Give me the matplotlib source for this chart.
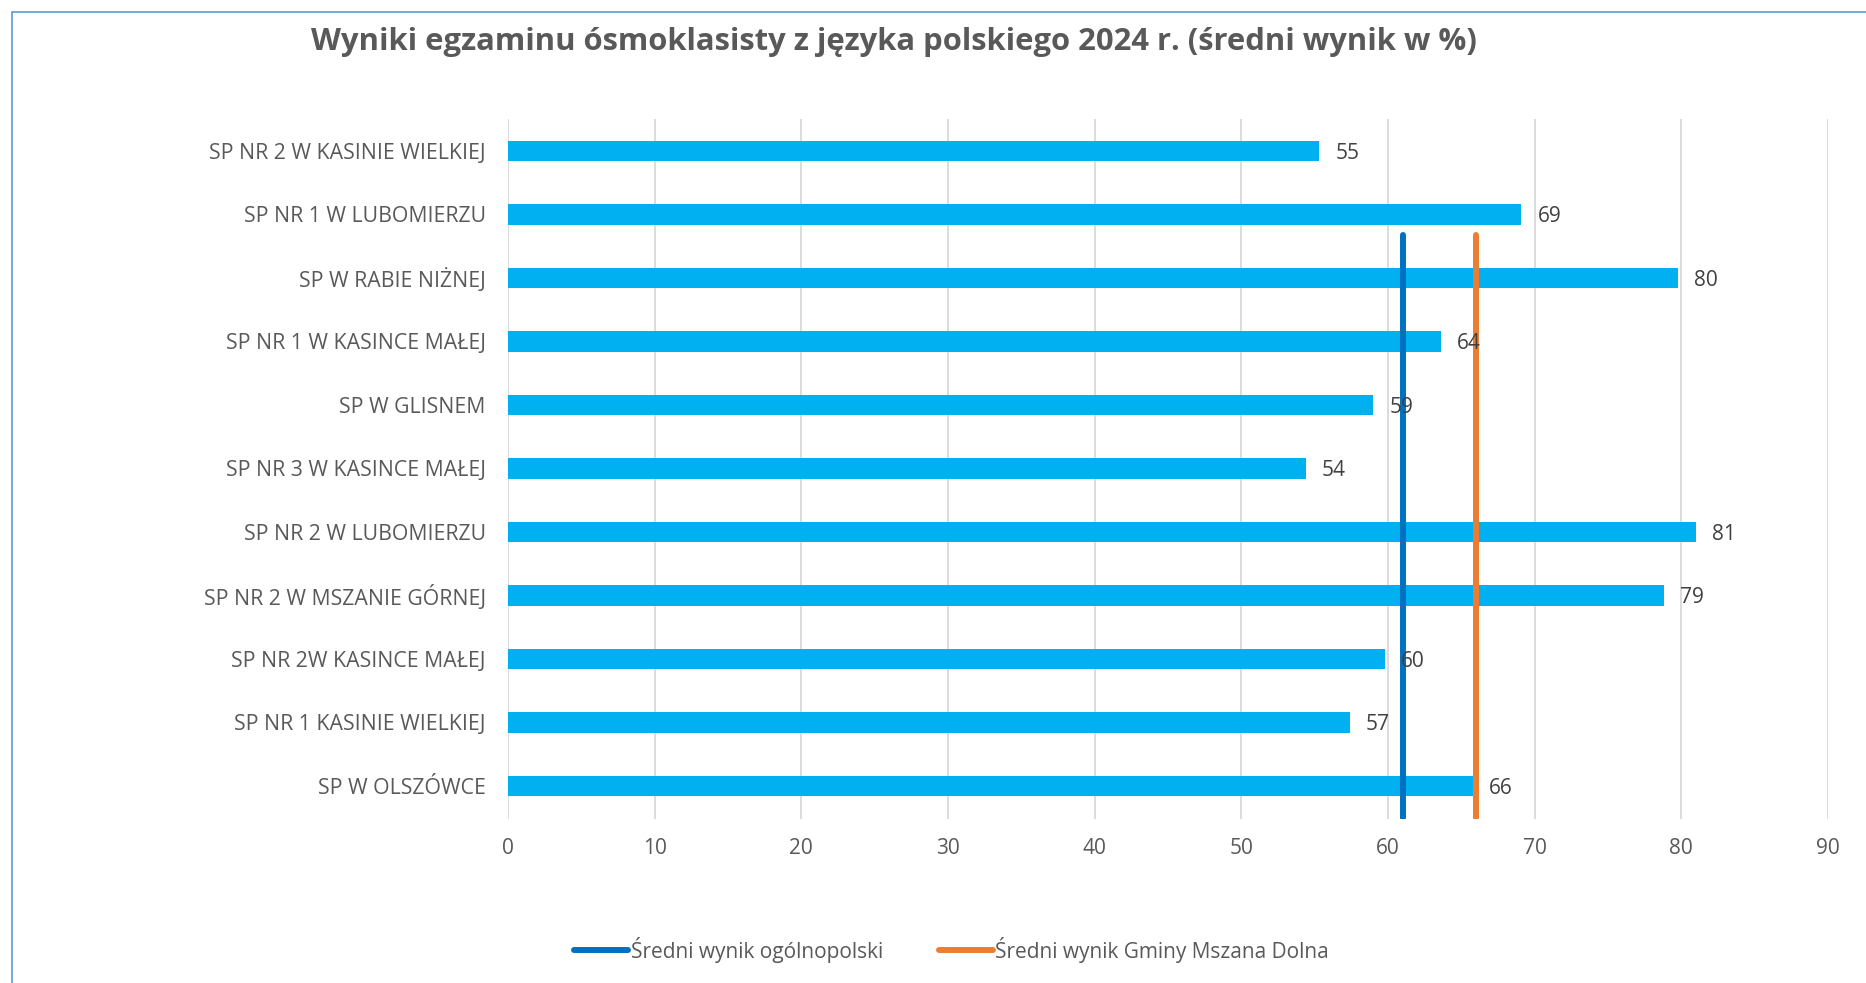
import matplotlib

matplotlib.use("Agg")
import matplotlib.pyplot as plt
from matplotlib.lines import Line2D
from matplotlib.patches import Rectangle

plt.rcParams["font.family"] = ["Open Sans", "DejaVu Sans"]

schools = [
    "SP NR 2 W KASINIE WIELKIEJ",
    "SP NR 1 W LUBOMIERZU",
    "SP W RABIE NIŻNEJ",
    "SP NR 1 W KASINCE MAŁEJ",
    "SP W GLISNEM",
    "SP NR 3 W KASINCE MAŁEJ",
    "SP NR 2 W LUBOMIERZU",
    "SP NR 2 W MSZANIE GÓRNEJ",
    "SP NR 2W KASINCE MAŁEJ",
    "SP NR 1 KASINIE WIELKIEJ",
    "SP W OLSZÓWCE",
]
scores = [55.3, 69.1, 79.8, 63.6, 59.0, 54.4, 81.0, 78.8, 59.8, 57.4, 65.8]

national_avg = 61.0
gmina_avg = 66.0
# vertical span of the average lines, in category units (bottom category = 0)
avg_line_span = [-0.5, 8.67]

x_ticks = [0, 10, 20, 30, 40, 50, 60, 70, 80, 90]

TEXT = "#595959"
BAR = "#00B0F0"
BLUE = "#0070C0"
ORANGE = "#ED7D31"
GRID = "#D9D9D9"

fig = plt.figure(figsize=(18.66, 9.83), dpi=100)
ax = fig.add_axes([0.2722, 0.1668, 0.7074, 0.712])

n = len(schools)
ypos = list(range(n - 1, -1, -1))
ax.barh(ypos, scores, height=0.32, color=BAR, zorder=2)
for y, v in zip(ypos, scores):
    ax.text(v + 1.1, y, f"{v:.0f}", va="center_baseline", ha="left", fontsize=15,
            color="#404040", zorder=4)

ax.plot([national_avg, national_avg], avg_line_span, color=BLUE, linewidth=4.3,
        solid_capstyle="round", zorder=3)
ax.plot([gmina_avg, gmina_avg], avg_line_span, color=ORANGE, linewidth=4.3,
        solid_capstyle="round", zorder=3)

ax.set_xlim(0, 90)
ax.set_ylim(-0.52, n - 0.5)
ax.set_xticks(x_ticks)
ax.set_yticks(ypos)
ax.set_yticklabels(schools)
ax.tick_params(axis="both", length=0, labelsize=15, labelcolor=TEXT)
ax.tick_params(axis="y", labelsize=15.3, pad=16)
ax.tick_params(axis="x", pad=13.5)
ax.grid(axis="x", color=GRID, linewidth=1.3, zorder=0)
ax.set_axisbelow(True)
for spine in ax.spines.values():
    spine.set_visible(False)

fig.text(0.479, 0.957, "Wyniki egzaminu ósmoklasisty z języka polskiego 2024 r. (średni wynik w %)",
         ha="center", va="center", fontsize=22.3, fontweight="bold", color=TEXT)

handles = [
    Line2D([], [], color=BLUE, linewidth=4.3, solid_capstyle="round"),
    Line2D([], [], color=ORANGE, linewidth=4.3, solid_capstyle="round"),
]
fig.legend(handles, ["Średni wynik ogólnopolski", "Średni wynik Gminy Mszana Dolna"],
           loc="center", bbox_to_anchor=(0.510, 0.034), ncol=2, frameon=False,
           fontsize=15, labelcolor=TEXT, handlelength=2.6, handletextpad=0.1,
           columnspacing=2.7)

fig.patches.append(Rectangle((12 / 1866, -0.1), 1.2, 1 - 12 / 983 + 0.1,
                             transform=fig.transFigure, fill=False,
                             edgecolor="#5B9BD5", linewidth=1.2))

fig.savefig("out.png", dpi=100)
